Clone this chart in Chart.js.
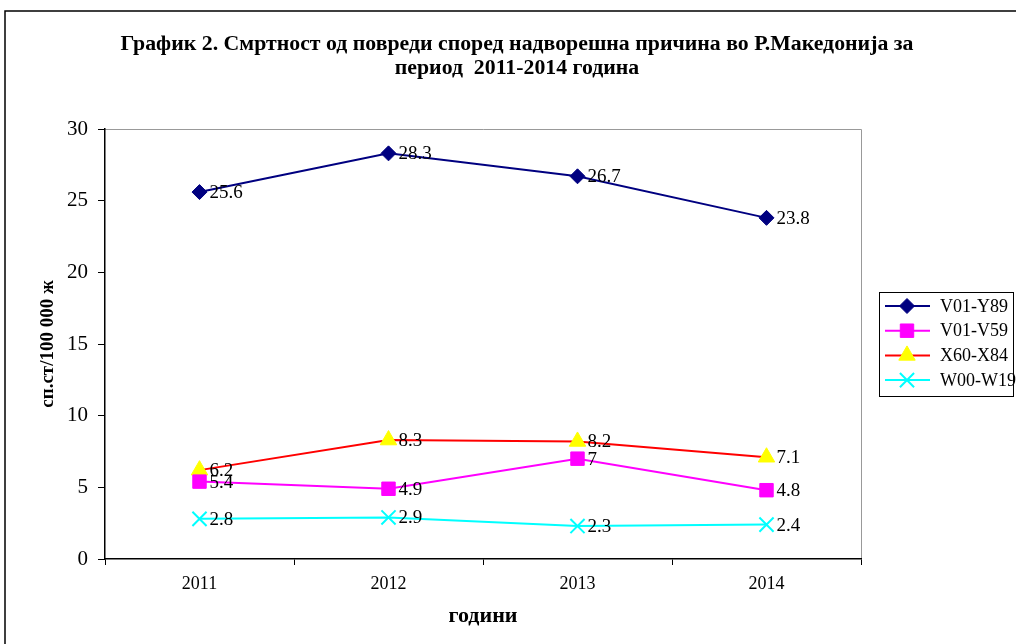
<!DOCTYPE html>
<html lang="mk">
<head>
  <meta charset="UTF-8">
  <title>График 2</title>
  <style>
    body { margin: 0; background: #fff; }
    canvas { display: block; }
  </style>
</head>
<body>
  <canvas id="grafik" width="1016" height="644"></canvas>

  <script src="https://cdn.jsdelivr.net/npm/chart.js"></script>
  <script>
    // podatoci
    const godini = ['2011', '2012', '2013', '2014'];
    const v01y89 = [25.6, 28.3, 26.7, 23.8];
    const v01v59 = [5.4, 4.9, 7, 4.8];
    const x60x84 = [6.2, 8.3, 8.2, 7.1];
    const w00w19 = [2.8, 2.9, 2.3, 2.4];
    const yTicks = [0, 5, 10, 15, 20, 25, 30];

    const SERIF = '"Liberation Serif", "DejaVu Serif", serif';
    const naslov = [
      'График 2. Смртност од повреди според надворешна причина во Р.Македонија за',
      'период  2011-2014 година'
    ];

    // okvir, naslov, granica na grafikot, oznaki i legenda
    const crtanje = {
      id: 'crtanje',
      beforeDraw(chart) {
        const c = chart.ctx;
        c.save();
        c.strokeStyle = '#000';
        c.lineWidth = 1.5;
        c.beginPath();
        c.moveTo(5, 644);
        c.lineTo(5, 11);
        c.lineTo(1016, 11);
        c.stroke();

        // naslovot e malku razvlecen vo originalot
        c.save();
        c.translate(517, 0);
        c.scale(1.09, 1);
        c.fillStyle = '#000';
        c.font = 'bold 20px ' + SERIF;
        c.textAlign = 'center';
        c.textBaseline = 'middle';
        c.fillText(naslov[0], 0, 45);
        c.fillText(naslov[1], 0, 69);
        c.restore();

        const a = chart.chartArea;
        c.strokeStyle = '#999';
        c.lineWidth = 1;
        c.beginPath();
        c.moveTo(a.left, a.top + 0.5);
        c.lineTo(a.right + 0.5, a.top + 0.5);
        c.lineTo(a.right + 0.5, a.bottom);
        c.stroke();
        c.restore();
      },
      afterDatasetsDraw(chart) {
        const c = chart.ctx;
        c.save();
        c.fillStyle = '#000';
        c.font = '19px ' + SERIF;
        c.textAlign = 'left';
        c.textBaseline = 'middle';
        chart.data.datasets.forEach((ds, i) => {
          chart.getDatasetMeta(i).data.forEach((pt, j) => {
            c.fillText(String(ds.data[j]), pt.x + 10, pt.y + 1);
          });
        });

        // legenda
        const lx = 879, ly = 292, lw = 134, lh = 104;
        c.strokeStyle = '#000';
        c.lineWidth = 1;
        c.strokeRect(lx + 0.5, ly + 0.5, lw, lh);
        c.font = '18px ' + SERIF;
        chart.data.datasets.forEach((ds, i) => {
          const y = ly + 14 + i * 24.7;
          c.strokeStyle = ds.borderColor;
          c.lineWidth = 2;
          c.beginPath();
          c.moveTo(885, y);
          c.lineTo(930, y);
          c.stroke();
          c.fillStyle = ds.pointBackgroundColor;
          c.strokeStyle = ds.pointBorderColor;
          c.lineWidth = ds.pointBorderWidth;
          Chart.helpers.drawPoint(c, {
            pointStyle: ds.pointStyle,
            radius: ds.pointRadius,
            borderWidth: ds.pointBorderWidth,
            rotation: 0
          }, 907, y);
          c.fillStyle = '#000';
          c.fillText(ds.label, 940, y + 1);
        });
        c.restore();
      }
    };

    new Chart(document.getElementById('grafik'), {
      type: 'line',
      data: {
        labels: godini,
        datasets: [
          {
            label: 'V01-Y89', data: v01y89,
            borderColor: '#000080', borderWidth: 2,
            pointStyle: 'rectRot', pointRadius: 7.5,
            pointBackgroundColor: '#000080', pointBorderColor: '#000080', pointBorderWidth: 1
          },
          {
            label: 'V01-V59', data: v01v59,
            borderColor: '#FF00FF', borderWidth: 2,
            pointStyle: 'rect', pointRadius: 9.5,
            pointBackgroundColor: '#FF00FF', pointBorderColor: '#FF00FF', pointBorderWidth: 1
          },
          {
            label: 'X60-X84', data: x60x84,
            borderColor: '#FF0000', borderWidth: 2,
            pointStyle: 'triangle', pointRadius: 9.5,
            pointBackgroundColor: '#FFFF00', pointBorderColor: '#FFFF00', pointBorderWidth: 1
          },
          {
            label: 'W00-W19', data: w00w19,
            borderColor: '#00FFFF', borderWidth: 2,
            pointStyle: 'crossRot', pointRadius: 10,
            pointBackgroundColor: '#00FFFF', pointBorderColor: '#00FFFF', pointBorderWidth: 2
          }
        ]
      },
      options: {
        responsive: false,
        animation: false,
        tension: 0,
        layout: { padding: { top: 129, right: 155, bottom: 0, left: 0 } },
        plugins: {
          legend: { display: false },
          title: { display: false },
          tooltip: { enabled: false }
        },
        scales: {
          x: {
            offset: true,
            afterFit(s) { s.height = 85; },
            grid: { drawOnChartArea: false, drawTicks: true, tickLength: 6, color: '#000', offset: true },
            border: { color: '#000', width: 1.5 },
            ticks: { color: '#000', font: { family: SERIF, size: 18 }, padding: 8 },
            title: {
              display: true, text: 'години', color: '#000',
              font: { family: SERIF, size: 22, weight: 'bold' },
              padding: { top: 0, bottom: 14 }
            }
          },
          y: {
            min: 0, max: 30,
            afterFit(s) { s.width = 105; },
            afterBuildTicks(s) { s.ticks = yTicks.map(v => ({ value: v })); },
            grid: { drawOnChartArea: false, drawTicks: true, tickLength: 7, color: '#000' },
            border: { color: '#000', width: 1.5 },
            ticks: { color: '#000', font: { family: SERIF, size: 21 }, padding: 10 },
            title: {
              display: true, text: 'сп.ст/100 000 ж', color: '#000',
              font: { family: SERIF, size: 19, weight: 'bold' },
              padding: { top: 37, bottom: 0 }
            }
          }
        }
      },
      plugins: [crtanje]
    });
  </script>
</body>
</html>
